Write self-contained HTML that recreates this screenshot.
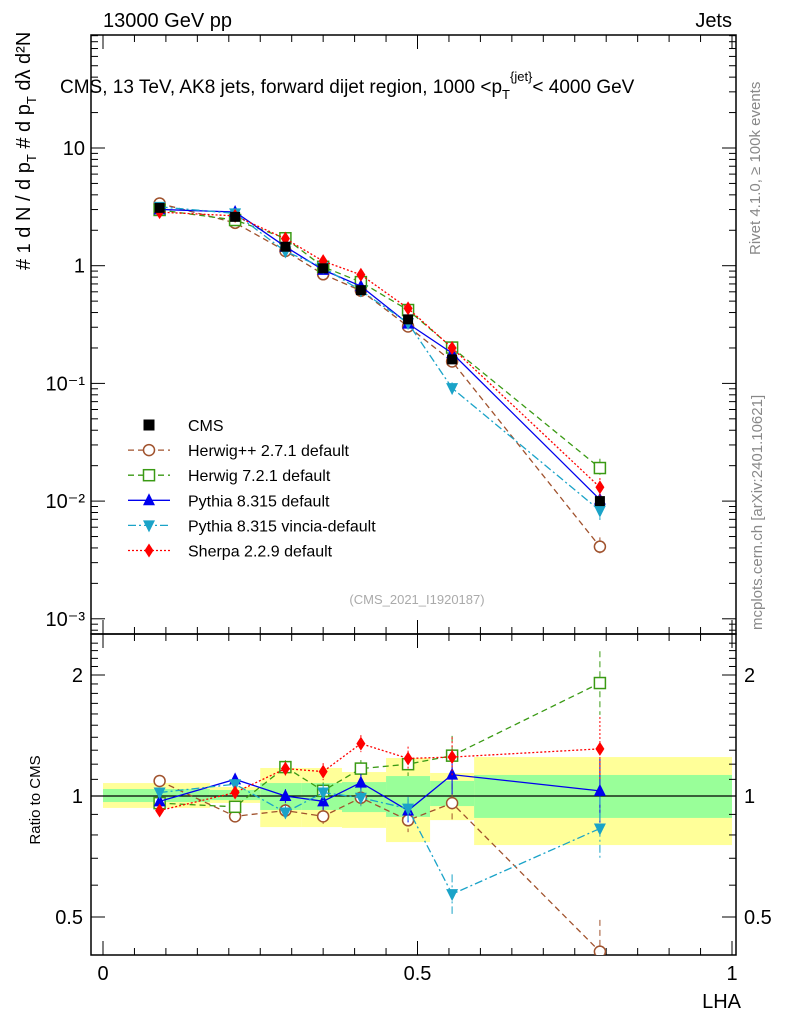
<!DOCTYPE html>
<html><head><meta charset="utf-8"><style>
body{margin:0;background:#fff;font-family:"Liberation Sans",sans-serif}
svg text{font-family:"Liberation Sans",sans-serif}
</style></head><body>
<svg id="c" width="786" height="1024" viewBox="0 0 786 1024" xmlns="http://www.w3.org/2000/svg">
<defs>
<clipPath id="cm"><rect x="91" y="35" width="645" height="599"/></clipPath>
<clipPath id="cr"><rect x="91" y="634" width="645" height="321"/></clipPath>
</defs>
<text x="103" y="27" font-size="20">13000 GeV pp</text>
<text x="732" y="27" font-size="20" text-anchor="end">Jets</text>
<text x="60" y="93" font-size="19">CMS, 13 TeV, AK8 jets, forward dijet region, 1000 &lt;p<tspan font-size="13" dy="6">T</tspan><tspan font-size="13" dy="-18">{jet}</tspan><tspan dy="12">&lt; 4000 GeV</tspan></text>
<text transform="translate(30,270) rotate(-90)" font-size="20">#  <tspan font-size="18">1</tspan> d N / d p<tspan font-size="13" dy="6">T</tspan><tspan dy="-6"> # d p</tspan><tspan font-size="13" dy="6">T</tspan><tspan dy="-6"> dλ  d²N</tspan></text>
<text transform="translate(760,255) rotate(-90)" font-size="15" fill="#888">Rivet 4.1.0, ≥ 100k events</text>
<text transform="translate(762,630) rotate(-90)" font-size="15" fill="#888">mcplots.cern.ch [arXiv:2401.10621]</text>
<text x="417" y="604" font-size="13" fill="#aaa" text-anchor="middle">(CMS_2021_I1920187)</text>
<text x="40" y="800" font-size="15" transform="rotate(-90,40,800)" text-anchor="middle">Ratio to CMS</text>
<text x="741" y="1008" font-size="20" text-anchor="end">LHA</text>
<g id="bands"></g><g id="axes"></g><g id="seriesM" clip-path="url(#cm)"></g><g id="seriesR" clip-path="url(#cr)"></g><g id="legend"></g>
</svg>
<script>
const xVals=[0.09,0.21,0.29,0.35,0.41,0.485,0.555,0.79];
const cms=[3.1,2.6,1.45,0.95,0.62,0.35,0.16,0.0100];
const binEdges=[0,0.17,0.25,0.315,0.38,0.45,0.52,0.59,1.0];
const yelLo=[0.934,0.961,0.837,0.837,0.833,0.768,0.871,0.755];
const yelHi=[1.077,1.053,1.174,1.174,1.147,1.243,1.141,1.25];
const grnLo=[0.966,0.977,0.923,0.923,0.912,0.887,0.944,0.882];
const grnHi=[1.041,1.035,1.077,1.077,1.083,1.121,1.09,1.128];
const rHerwigpp=[1.09,0.89,0.92,0.89,0.99,0.87,0.96,0.41];
const rHerwig7=[0.96,0.94,1.18,1.03,1.17,1.20,1.26,1.91];
const rPythia=[0.97,1.10,1.0,0.97,1.08,0.92,1.13,1.03];
const rVincia=[1.02,1.07,0.91,1.02,0.99,0.93,0.57,0.83];
const rSherpa=[0.92,1.02,1.17,1.15,1.35,1.24,1.25,1.31];
const relErr=[0.02,0.03,0.04,0.05,0.05,0.07,0.12,0.2];
const tickMain=["10","1","10⁻¹","10⁻²","10⁻³"];
const tickRatio=["0.5","1","2"];
const tickX=["0","0.5","1"];
const NS="http://www.w3.org/2000/svg";
const X0=103,X1=732,L=91,R=736,T=35,MB=634,RB=955;
const xs=v=>X0+(X1-X0)*v;
const ym=v=>148-117.7*(Math.log10(v)-1);
const yr=v=>796-121*Math.log2(v);
function mk(p,tag,at){const e=document.createElementNS(NS,tag);for(const k in at)e.setAttribute(k,at[k]);document.getElementById(p).appendChild(e);return e;}
for(let i=0;i<8;i++){
 let a=mk('bands','rect',{x:xs(binEdges[i]),width:xs(binEdges[i+1])-xs(binEdges[i]),y:yr(yelHi[i]),height:yr(yelLo[i])-yr(yelHi[i]),fill:'#ffff99'});
 
 
 let b=mk('bands','rect',{x:xs(binEdges[i]),width:xs(binEdges[i+1])-xs(binEdges[i]),y:yr(grnHi[i]),height:yr(grnLo[i])-yr(grnHi[i]),fill:'#99ff99'});
 
 
}
mk('axes','line',{x1:L,x2:R,y1:796,y2:796,stroke:'#000','stroke-width':1.2});
mk('axes','rect',{x:L,y:T,width:R-L,height:MB-T,fill:'none',stroke:'#000','stroke-width':1.5});
mk('axes','rect',{x:L,y:MB,width:R-L,height:RB-MB,fill:'none',stroke:'#000','stroke-width':1.5});
for(let d=-4;d<=2;d++)for(let m=1;m<10;m++){const v=m*Math.pow(10,d),y=ym(v);if(y<T||y>MB)continue;const len=m==1?14:7;
 mk('axes','line',{x1:L,x2:L+len,y1:y,y2:y,stroke:'#000'});mk('axes','line',{x1:R,x2:R-len,y1:y,y2:y,stroke:'#000'});}
tickMain.forEach((t,i)=>{const y=ym(Math.pow(10,1-i));const e=mk('axes','text',{x:L-6,y:y+7,'font-size':20,'text-anchor':'end'});e.textContent=t;
 
 });
for(let v=0.4;v<=2.5;v+=0.1){const y=yr(v);if(y<MB||y>RB)continue;const maj=[0.5,1,2].some(q=>Math.abs(q-v)<1e-6);const len=maj?14:7;
 mk('axes','line',{x1:L,x2:L+len,y1:y,y2:y,stroke:'#000'});mk('axes','line',{x1:R,x2:R-len,y1:y,y2:y,stroke:'#000'});}
tickRatio.forEach(t=>{const y=yr(parseFloat(t));let e=mk('axes','text',{x:L-8,y:y+7,'font-size':20,'text-anchor':'end'});e.textContent=t;
 
 
 e=mk('axes','text',{x:R+8,y:y+7,'font-size':20});e.textContent=t;
 
 });
for(let i=-1;i<=20;i++){const v=i*0.05,x=xs(v);if(x<L||x>R)continue;const len=i%10==0?14:7;
 mk('axes','line',{x1:x,x2:x,y1:RB,y2:RB-len,stroke:'#000'});mk('axes','line',{x1:x,x2:x,y1:MB,y2:MB-len,stroke:'#000'});mk('axes','line',{x1:x,x2:x,y1:T,y2:T+len,stroke:'#000'});mk('axes','line',{x1:x,x2:x,y1:MB,y2:MB+len,stroke:'#000'});}
tickX.forEach(t=>{const e=mk('axes','text',{x:xs(parseFloat(t)),y:980,'font-size':20,'text-anchor':'middle'});e.textContent=t;
 
 });
const series=[
 {n:'herwigpp',r:rHerwigpp,c:'#a0522d',d:'6,4',m:'circle',lab:'Herwig++ 2.7.1 default'},
 {n:'herwig7',r:rHerwig7,c:'#3a9a14',d:'6,4',m:'square',lab:'Herwig 7.2.1 default'},
 {n:'pythia',r:rPythia,c:'#0000ee',d:'',m:'tri',lab:'Pythia 8.315 default'},
 {n:'vincia',r:rVincia,c:'#1aa3c8',d:'8,3,2,3',m:'tridown',lab:'Pythia 8.315 vincia-default'},
 {n:'sherpa',r:rSherpa,c:'#ff0000',d:'2,2',m:'diamond',lab:'Sherpa 2.2.9 default'}];
function marker(g,type,x,y,c){
 if(type=='circle')return mk(g,'circle',{cx:x,cy:y,r:5.5,fill:'#fff',stroke:c,'stroke-width':1.5});
 if(type=='square')return mk(g,'rect',{x:x-5.5,y:y-5.5,width:11,height:11,fill:'#fff',stroke:c,'stroke-width':1.5});
 if(type=='tri')return mk(g,'polygon',{points:`${x},${y-7} ${x-6},${y+5} ${x+6},${y+5}`,fill:c});
 if(type=='tridown')return mk(g,'polygon',{points:`${x},${y+7} ${x-6},${y-5} ${x+6},${y-5}`,fill:c});
 if(type=='diamond')return mk(g,'polygon',{points:`${x},${y-7} ${x-4.5},${y} ${x},${y+7} ${x+4.5},${y}`,fill:c});
 return mk(g,'rect',{x:x-5.5,y:y-5.5,width:11,height:11,fill:c});
}
series.forEach(s=>{
 const pm=xVals.map((x,i)=>`${xs(x)},${ym(cms[i]*s.r[i])}`).join(' ');
 const pr=xVals.map((x,i)=>`${xs(x)},${yr(s.r[i])}`).join(' ');
 let l=mk('seriesM','polyline',{points:pm,fill:'none',stroke:s.c,'stroke-width':1.3,'stroke-dasharray':s.d});
 
 
 l=mk('seriesR','polyline',{points:pr,fill:'none',stroke:s.c,'stroke-width':1.3,'stroke-dasharray':s.d});
 
 
 xVals.forEach((x,i)=>{
  const v=cms[i]*s.r[i],e=relErr[i];
  mk('seriesM','line',{x1:xs(x),x2:xs(x),y1:ym(v*(1+e)),y2:ym(v/(1+e)),stroke:s.c,'stroke-dasharray':s.d});
  mk('seriesR','line',{x1:xs(x),x2:xs(x),y1:yr(s.r[i]*(1+e)),y2:yr(s.r[i]/(1+e)),stroke:s.c,'stroke-dasharray':s.d});
  let m=marker('seriesM',s.m,xs(x),ym(v),s.c);
  
  
  m=marker('seriesR',s.m,xs(x),yr(s.r[i]),s.c);
  
  
 });
});
xVals.forEach((x,i)=>{
 mk('seriesM','line',{x1:xs(x),x2:xs(x),y1:ym(cms[i]*(1+relErr[i]*0.5)),y2:ym(cms[i]/(1+relErr[i]*0.5)),stroke:'#000'});
 const m=mk('seriesM','rect',{x:xs(x)-5,y:ym(cms[i])-5,width:10,height:10,fill:'#000'});
 
 
});
const leg=[{lab:'CMS',c:'#000',m:'cms',d:''}].concat(series);
leg.forEach((s,i)=>{const y=425+i*25.1;
 if(s.m!='cms')mk('legend','line',{x1:128,x2:170,y1:y,y2:y,stroke:s.c,'stroke-width':1.3,'stroke-dasharray':s.d});
 const m=marker('legend',s.m,149,y,s.c);
 
 
 const t=mk('legend','text',{x:188,y:y+6,'font-size':16});t.textContent=s.lab;
 
 
});
</script>
</body></html>
